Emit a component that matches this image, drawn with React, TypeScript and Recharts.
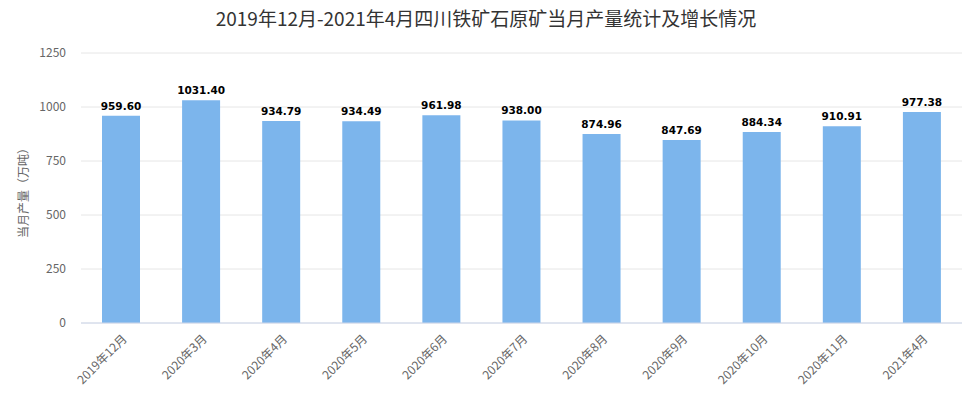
import React from 'react';
import { BarChart, Bar, XAxis, YAxis, CartesianGrid, LabelList } from 'recharts';

const categories = ['2019年12月', '2020年3月', '2020年4月', '2020年5月', '2020年6月', '2020年7月', '2020年8月', '2020年9月', '2020年10月', '2020年11月', '2021年4月'];
const production = [959.6, 1031.4, 934.79, 934.49, 961.98, 938.0, 874.96, 847.69, 884.34, 910.91, 977.38];
const yTicks = [0, 250, 500, 750, 1000, 1250];

const data = categories.map((c, i) => ({ name: c, value: production[i] }));

const FONT = '"Noto Sans CJK SC", "Noto Sans", sans-serif';

const XTick = (props: any) => {
  const { x, y, payload } = props;
  return (
    <g transform={`translate(${x + 1},${y + 3})`}>
      <text x={0} y={0} dy={8} textAnchor="end" transform="rotate(-45)" fill="#666" fontSize={12} fontFamily={FONT}>
        {payload.value}
      </text>
    </g>
  );
};

const YLabel = () => (
  <text x={22} y={190} transform="rotate(-90, 22, 190)" textAnchor="middle" dominantBaseline="central" fill="#666" fontSize={12} fontFamily={FONT}>
    当月产量（万吨）
  </text>
);

export default function App() {
  return (
    <div style={{ position: 'absolute', left: 0, top: 0, width: 972, height: 400, background: '#fff' }}>
      <div style={{ position: 'absolute', left: 0, top: 4, width: 972, textAlign: 'center', fontFamily: FONT, fontSize: 19, color: '#333', lineHeight: '28px' }}>
        2019年12月-2021年4月四川铁矿石原矿当月产量统计及增长情况
      </div>
      <BarChart width={972} height={400} data={data} margin={{ top: 53, right: 10, left: 0, bottom: 0 }} barCategoryGap={0}>
        <CartesianGrid vertical={false} stroke="#e6e6e6" />
        <XAxis dataKey="name" interval={0} height={77} tickLine={false} axisLine={{ stroke: '#ccd6eb' }} tick={<XTick />} />
        <YAxis width={81} domain={[0, 1250]} ticks={yTicks} axisLine={false} tickLine={false} tickMargin={9}
          tick={{ fill: '#666', fontSize: 12, fontFamily: FONT }} label={<YLabel />} />
        <Bar dataKey="value" fill="#7cb5ec" barSize={38} isAnimationActive={false}>
          <LabelList dataKey="value" position="top" offset={6} formatter={(v: any) => Number(v).toFixed(2)}
            style={{ fill: '#000', fontSize: 10.5, fontWeight: 'bold', fontFamily: '"DejaVu Sans", sans-serif' }} />
        </Bar>
      </BarChart>
    </div>
  );
}
